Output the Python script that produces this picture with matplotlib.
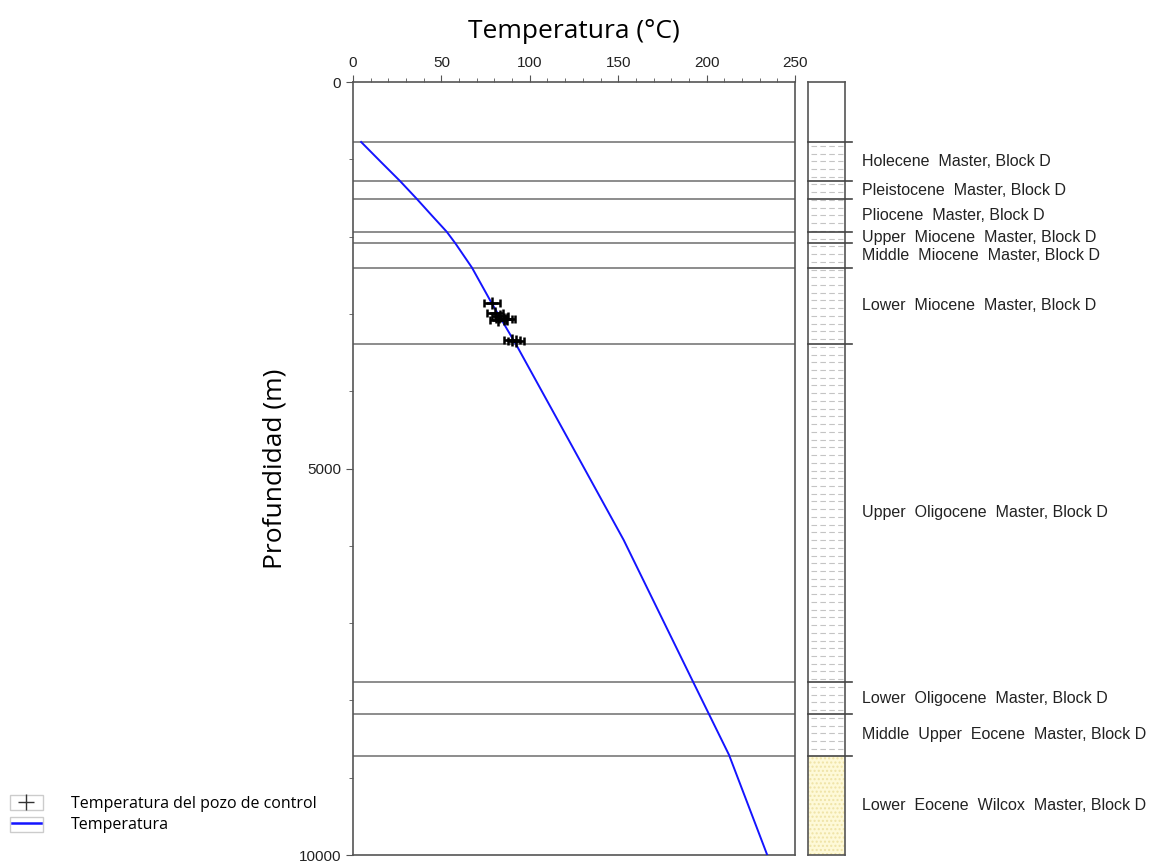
import numpy as np
import matplotlib
matplotlib.use("Agg")
import matplotlib.pyplot as plt
from matplotlib.patches import Rectangle
from matplotlib.lines import Line2D

# Horizonte (Tiefe in m) und Namen der Schichten
horizontes = [776, 1281, 1514, 1940, 2083, 2406, 3389, 7762, 8176, 8719]
capas = ["Holecene  Master, Block D",
         "Pleistocene  Master, Block D",
         "Pliocene  Master, Block D",
         "Upper  Miocene  Master, Block D",
         "Middle  Miocene  Master, Block D",
         "Lower  Miocene  Master, Block D",
         "Upper  Oligocene  Master, Block D",
         "Lower  Oligocene  Master, Block D",
         "Middle  Upper  Eocene  Master, Block D",
         "Lower  Eocene  Wilcox  Master, Block D"]

# Temperaturkurve
prof_curva = [776, 1030, 1281, 1510, 1730, 1937, 2087, 2402, 2855, 3402,
              4631, 5925, 7762, 8706, 10000]
temp_curva = [4.6, 15.6, 26.6, 36.0, 44.7, 53.0, 57.9, 67.3, 78.3, 92.4,
              122.0, 153.1, 192.4, 212.7, 234.3]

# Messpunkte Kontrollbohrung
prof_pozo = [2855, 2990, 3030, 3060, 3080, 3070, 3340, 3350]
temp_pozo = [78.5, 80.5, 83.0, 85.5, 82.0, 87.0, 90.0, 92.0]
err_pozo = 4.5

fuente = "Liberation Sans"
gris = "#555555"

fig = plt.figure(figsize=(11.5, 8.63), dpi=100)
ax = fig.add_axes([353/1150, 8/863, 442/1150, 773/863])

for h in horizontes:
    ax.axhline(h, color="#8c8c8c", lw=1.4, zorder=1)

ax.plot(temp_curva, prof_curva, color="#1414ff", lw=1.4, zorder=3)
ax.errorbar(temp_pozo, prof_pozo, xerr=err_pozo, fmt="+", color="black",
            ms=8, mew=1.8, elinewidth=1.8, capsize=3, capthick=1.8, zorder=4)

ax.set_xlim(0, 250)
ax.set_ylim(10000, 0)
ax.xaxis.tick_top()
ax.xaxis.set_label_position("top")
ax.set_xticks(np.arange(0, 251, 50))
ax.set_xticks(np.arange(0, 251, 10), minor=True)
ax.set_yticks([0, 5000, 10000])
ax.set_yticks(np.arange(0, 10001, 1000), minor=True)
ax.tick_params(which="both", colors=gris, labelcolor="#222222", labelsize=11)
ax.tick_params(which="major", length=5)
ax.tick_params(which="minor", length=3)
for lab in ax.get_xticklabels() + ax.get_yticklabels():
    lab.set_fontfamily(fuente)
for s in ax.spines.values():
    s.set_color(gris)
    s.set_linewidth(1.2)

ax.set_xlabel("Temperatura (°C)", fontsize=19, fontfamily="Open Sans", labelpad=13)
ax.set_ylabel("Profundidad (m)", fontsize=19, fontfamily="Open Sans", labelpad=8)

# Stratigraphische Säule
col = fig.add_axes([808/1150, 8/863, 37/1150, 773/863])
col.set_xlim(0, 1)
col.set_ylim(10000, 0)
col.set_xticks([])
col.set_yticks([])
for s in col.spines.values():
    s.set_color(gris)
    s.set_linewidth(1.2)

limites = [0] + horizontes + [10000]
# Tonstein-Muster
for yy in np.arange(horizontes[0] + 50, horizontes[-1], 100):
    col.plot([0.08, 0.95], [yy, yy], color="#c4c4c4", lw=0.8,
             dashes=(5, 3), zorder=1)
col.add_patch(Rectangle((0, horizontes[-1]), 1, 10000 - horizontes[-1],
                        facecolor="#fef9d8", edgecolor="#efe3a6",
                        hatch="....", lw=0, zorder=1))
for h in horizontes:
    col.plot([0, 1.19], [h, h], color="#444444", lw=1.2, clip_on=False, zorder=3)

for i, nombre in enumerate(capas):
    ymed = (limites[i + 1] + limites[i + 2]) / 2
    col.text(1.45, ymed, nombre, fontsize=11.5, fontfamily=fuente,
             color="#222222", va="center", ha="left", clip_on=False)

# Legende
manejadores = [Line2D([], [], ls="none", marker="+", ms=11, mew=1.0, color="#333333"),
               Line2D([], [], color="#1414ff", lw=1.8)]
etiquetas = ["Temperatura del pozo de control", "Temperatura"]
fig.legend(manejadores, etiquetas, loc="upper left",
           bbox_to_anchor=(12/1150, 1 - 796/863), frameon=False,
           borderpad=0, borderaxespad=0,
           prop={"family": "Open Sans", "size": 11.5}, handlelength=1.8,
           handletextpad=1.9, labelspacing=0.3)
for yb in (795, 817):
    fig.patches.append(Rectangle((10/1150, 1 - (yb + 15)/863), 33/1150, 15/863,
                                 transform=fig.transFigure, fill=False,
                                 edgecolor="#cccccc", lw=1.0))

fig.savefig("out.png", dpi=100)
